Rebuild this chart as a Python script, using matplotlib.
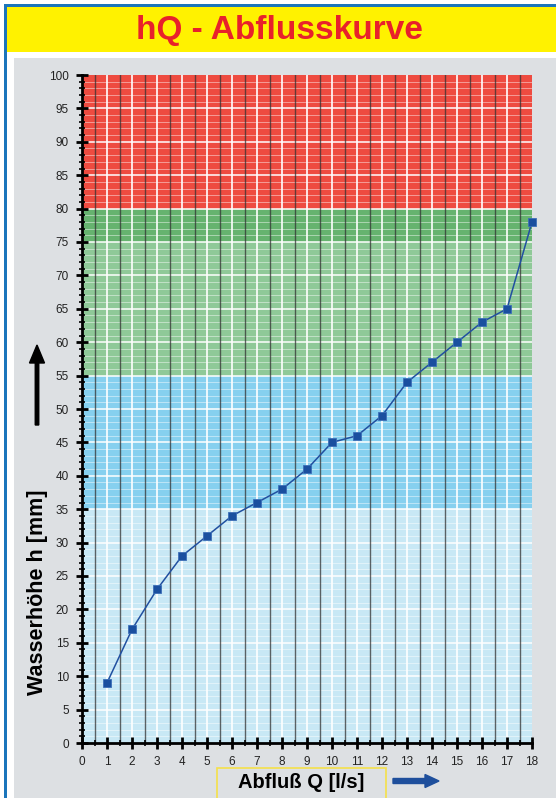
import matplotlib.pyplot as plt
from matplotlib.patches import Rectangle, FancyArrow
from matplotlib.ticker import MultipleLocator

# Abfluss Q [l/s] und Wasserhöhe h [mm]
q_values = [1, 2, 3, 4, 5, 6, 7, 8, 9, 10, 11, 12, 13, 14, 15, 16, 17, 18]
h_values = [9, 17, 23, 28, 31, 34, 36, 38, 41, 45, 46, 49, 54, 57, 60, 63, 65, 78]

# colour bands (lower, upper, colour)
band_low = [0, 35, 55, 75, 80]
band_high = [35, 55, 75, 80, 100]
band_colors = ['#c8e8f5', '#86d0ef', '#8fc998', '#66b36f', '#ee4b40']

title = 'hQ - Abflusskurve'
xlabel = 'Abfluß Q [l/s]'
ylabel = 'Wasserhöhe h [mm]'

fig = plt.figure(figsize=(5.56, 7.98), dpi=100)
fig.patch.set_facecolor('white')

W, H = 556, 798

def px(x0, y0, w, h, **kw):
    # rectangle in pixel coords (top-left origin)
    fig.patches.append(Rectangle((x0 / W, 1 - (y0 + h) / H), w / W, h / H,
                                 transform=fig.transFigure, **kw))

# frame pieces
px(14, 58, W - 14, H - 58, facecolor='#dde0e3', edgecolor='none', zorder=0)
px(5, 7, W - 5, 45, facecolor='#fff200', edgecolor='none', zorder=0)
px(4, 4, W - 4, 3, facecolor='#1b75bb', edgecolor='none', zorder=1)
px(4, 4, 3, H - 4, facecolor='#1b75bb', edgecolor='none', zorder=1)

fig.text(279 / W, 1 - 31 / H, title, color='#e8212b', fontsize=24,
         fontweight='bold', ha='center', va='center', family='Liberation Sans')

ax = fig.add_axes([82 / W, 1 - 743 / H, (532 - 82) / W, (743 - 75) / H])
ax.set_zorder(5)
ax.set_xlim(0, 18)
ax.set_ylim(0, 100)

for lo, hi, c in zip(band_low, band_high, band_colors):
    ax.axhspan(lo, hi, facecolor=c, edgecolor='none', zorder=0)

# grid
for y in range(1, 100):
    if y % 5 == 0:
        ax.axhline(y, color='white', lw=1.1, zorder=1)
    else:
        ax.axhline(y, color='white', lw=0.7, alpha=0.45, zorder=1)
for x in range(1, 18):
    ax.axvline(x, color='white', lw=1.2, zorder=1)
for i in range(18):
    ax.axvline(i + 0.5, color='#333333', lw=1.0, alpha=0.75, zorder=1)

ax.plot(q_values, h_values, color='#2150a0', lw=1.1, marker='s', ms=5.5,
        mfc='#1a4f9f', mec='#3d6fb8', mew=0.6, zorder=3, clip_on=False)

for s in ['top', 'right']:
    ax.spines[s].set_visible(False)
for s in ['left', 'bottom']:
    ax.spines[s].set_linewidth(2)
    ax.spines[s].set_zorder(4)

ax.xaxis.set_major_locator(MultipleLocator(1))
ax.xaxis.set_minor_locator(MultipleLocator(0.5))
ax.yaxis.set_major_locator(MultipleLocator(5))
ax.yaxis.set_minor_locator(MultipleLocator(1))
ax.tick_params(which='major', direction='inout', length=9, width=2,
               labelsize=8.5, pad=5, colors='black', labelcolor='#222222')
ax.tick_params(which='minor', direction='inout', length=5, width=1.2)
for lab in ax.get_xticklabels() + ax.get_yticklabels():
    lab.set_family('Liberation Sans')

fig.text(38 / W, 1 - 592 / H, ylabel, rotation=90, fontsize=15.5,
         fontweight='bold', ha='center', va='center', family='Liberation Sans')
fig.patches.append(FancyArrow(37 / W, 1 - 425 / H, 0, 80 / H, width=3.5 / W,
                              head_width=15 / W, head_length=18 / H,
                              length_includes_head=True, color='black',
                              transform=fig.transFigure))

px(217, 768, 169, 34, facecolor='none', edgecolor='#f5e04a', lw=1.2, zorder=2)
fig.text(301 / W, 1 - 782 / H, xlabel, fontsize=14.5, fontweight='bold',
         ha='center', va='center', family='Liberation Sans')
fig.patches.append(FancyArrow(393 / W, 1 - 781 / H, 46 / W, 0, width=5 / H,
                              head_width=13 / H, head_length=14 / W,
                              length_includes_head=True, color='#1e4f9c',
                              transform=fig.transFigure))

fig.savefig('out.png', dpi=100)
